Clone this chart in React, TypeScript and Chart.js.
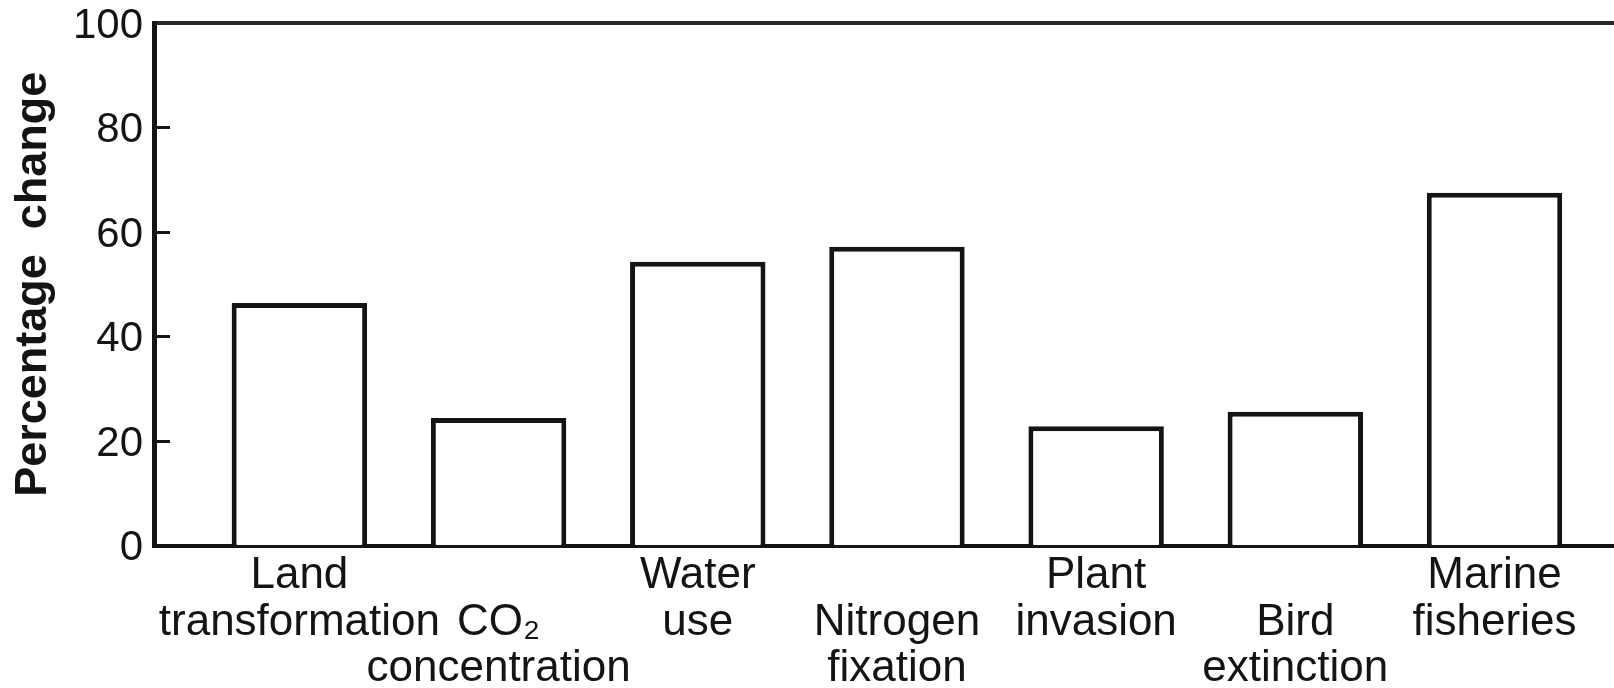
import React, { useEffect, useRef } from "react";
import { Chart, registerables } from "chart.js";

Chart.register(...registerables);

const categories = [
  "Land transformation",
  "CO₂ concentration",
  "Water use",
  "Nitrogen fixation",
  "Plant invasion",
  "Bird extinction",
  "Marine fisheries",
];
const values = [46.4, 24.4, 54.3, 57.2, 22.8, 25.6, 67.5];
const tickLabels: string[][] = [
  ["Land", "transformation"],
  ["", "CO₂", "concentration"],
  ["Water", "use"],
  ["", "Nitrogen", "fixation"],
  ["Plant", "invasion"],
  ["", "Bird", "extinction"],
  ["Marine", "fisheries"],
];
const yAxisTitle = "Percentage  change";

const INK = "#141414";
const FONT = "'Liberation Sans', Arial, Helvetica, sans-serif";

export default function App() {
  const ref = useRef<HTMLCanvasElement | null>(null);

  useEffect(() => {
    if (!ref.current) return;
    const chart = new Chart(ref.current, {
      type: "bar",
      data: {
        datasets: [
          {
            label: "Percentage change",
            data: categories.map((_, i) => ({ x: i, y: values[i] })),
            backgroundColor: "#ffffff",
            borderColor: INK,
            borderWidth: 5,
            borderSkipped: "start",
            categoryPercentage: 1,
            barPercentage: 0.68,
          },
        ],
      },
      options: {
        animation: false,
        responsive: false,
        devicePixelRatio: 1,
        layout: { padding: { top: 23, left: 0, right: 0, bottom: 0 } },
        plugins: {
          legend: { display: false },
          tooltip: { enabled: false },
        },
        scales: {
          x: {
            type: "linear",
            position: "bottom",
            offset: false,
            min: -0.73,
            max: 6.6,
            bounds: "data",
            afterBuildTicks: (scale: any) => {
              scale.ticks = categories.map((_, i) => ({ value: i }));
            },
            afterFit: (scale: any) => {
              scale.height = 142.5;
            },
            grid: { display: false, offset: false },
            border: { display: true, color: INK, width: 4 },
            ticks: {
              autoSkip: false,
              maxRotation: 0,
              minRotation: 0,
              padding: -1,
              color: INK,
              font: { family: FONT, size: 44, lineHeight: 1.06 },
              callback: (_v: any, i: number) => tickLabels[i],
            },
          },
          xTop: {
            type: "linear",
            position: "top",
            offset: false,
            min: 0,
            max: 1,
            afterFit: (scale: any) => {
              scale.height = 0;
            },
            grid: { display: false, drawTicks: false },
            ticks: { display: false },
            border: { display: true, color: "#2a2a2a", width: 4 },
          },
          y: {
            type: "linear",
            position: "left",
            min: 0,
            max: 100,
            afterFit: (scale: any) => {
              scale.width = 154;
              scale.paddingTop = 0;
              scale.paddingBottom = 0;
            },
            grid: {
              display: true,
              drawOnChartArea: false,
              drawTicks: true,
              tickLength: -16,
              tickWidth: 3,
              tickColor: INK,
            },
            border: { display: true, color: INK, width: 5 },
            ticks: {
              stepSize: 20,
              padding: 27,
              labelOffset: 3,
              color: INK,
              font: { family: FONT, size: 42, lineHeight: 1 },
            },
            title: {
              display: true,
              text: yAxisTitle,
              color: INK,
              padding: { top: 7, bottom: 0 },
              font: { family: FONT, size: 45, weight: "bold", lineHeight: 1.2 },
            },
          },
        },
      } as any,
    });
    return () => chart.destroy();
  }, []);

  return (
    <div style={{ position: "fixed", left: 0, top: 0, width: 1614, height: 688, background: "#fff" }}>
      <canvas ref={ref} width={1614} height={688} style={{ display: "block" }} />
    </div>
  );
}
